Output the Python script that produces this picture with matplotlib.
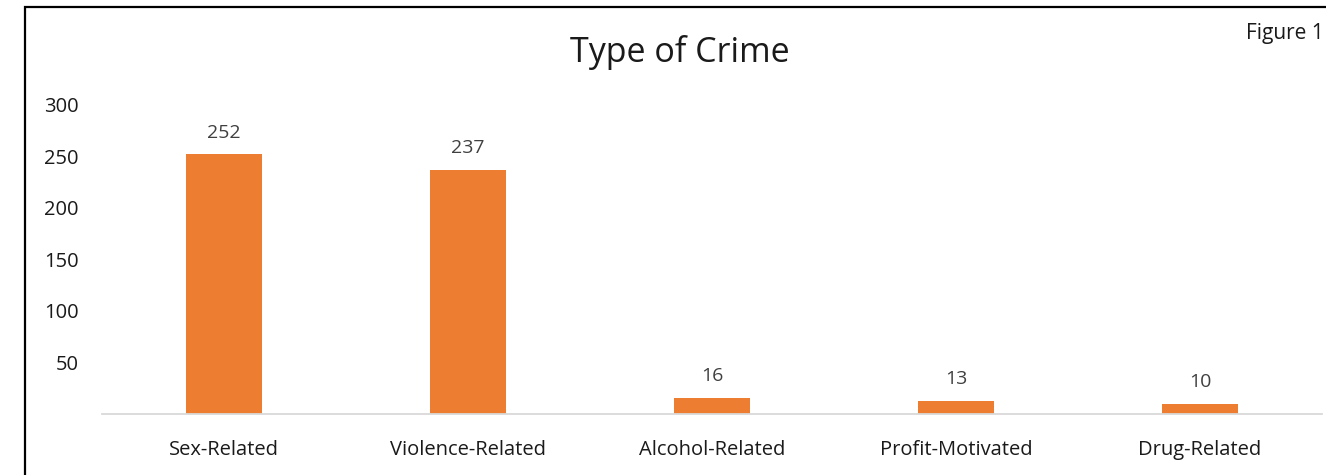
import matplotlib.pyplot as plt
from matplotlib.patches import Rectangle

categorias = ['Sex-Related', 'Violence-Related', 'Alcohol-Related', 'Profit-Motivated', 'Drug-Related']
valores = [252, 237, 16, 13, 10]
ticks_y = [50, 100, 150, 200, 250, 300]

plt.rcParams['font.family'] = ['Open Sans', 'DejaVu Sans']

W, H = 1326, 475
fig = plt.figure(figsize=(W / 100, H / 100), dpi=100)

# marco negro recortado (solo izquierda y arriba visibles)
fig.add_artist(Rectangle((25 / W, -0.1), 1.2, (H - 7) / H + 0.1, transform=fig.transFigure,
                         fill=False, edgecolor='black', linewidth=1.6))

ax = fig.add_axes([102 / W, 1 - 414 / H, (1322 - 102) / W, (414 - 105) / H])
x = range(len(categorias))
barras = ax.bar(x, valores, width=0.315, color='#ED7D31')
ax.bar_label(barras, labels=[str(v) for v in valores], padding=9, fontsize=14, color='#404040')

ax.set_xlim(-0.5, len(categorias) - 0.5)
ax.set_ylim(0, 300)
ax.set_xticks(list(x))
ax.set_xticklabels(categorias, fontsize=14.5, color='#1a1a1a')
ax.set_yticks(ticks_y)
ax.set_yticklabels([str(t) for t in ticks_y], fontsize=14.5, color='#1a1a1a')
ax.tick_params(length=0)
ax.tick_params(axis='x', pad=19)
ax.tick_params(axis='y', pad=17)
for lado in ['top', 'right', 'left']:
    ax.spines[lado].set_visible(False)
ax.spines['bottom'].set_color('#d9d9d9')
ax.spines['bottom'].set_linewidth(1.3)

fig.text(680 / W, 1 - 52 / H, 'Type of Crime', ha='center', va='center', fontsize=24.5, color='#1a1a1a')
fig.text(1324 / W, 1 - 33 / H, 'Figure 1', ha='right', va='center', fontsize=15, color='#1a1a1a')

fig.savefig('out.png', dpi=100)
